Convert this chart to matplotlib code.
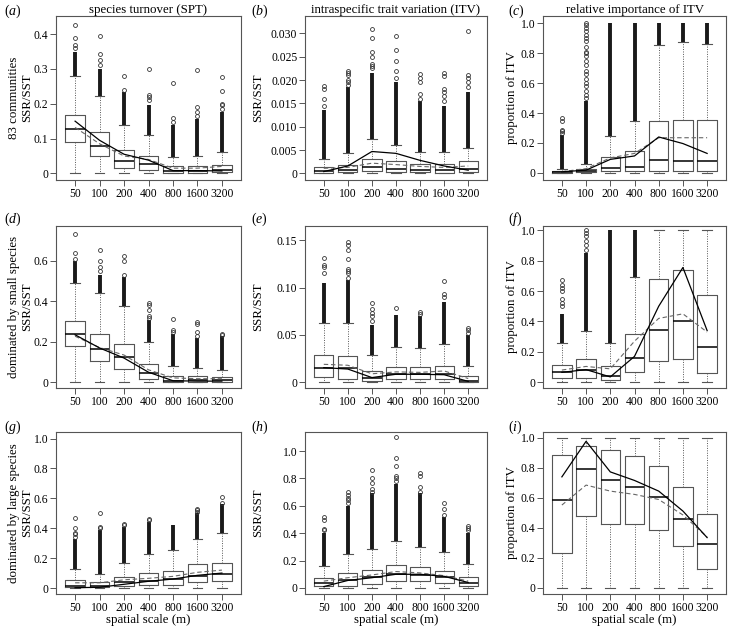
import numpy as np
import matplotlib.pyplot as plt

plt.rcParams['font.family'] = ['Liberation Serif', 'DejaVu Serif']
plt.rcParams['mathtext.fontset'] = 'custom'
plt.rcParams['mathtext.rm'] = 'Liberation Serif'
plt.rcParams['mathtext.it'] = 'Liberation Serif:italic'

scales = ['50', '100', '200', '400', '800', '1600', '3200']

# (a) species turnover, 83 communities
a_q1 = [0.090, 0.049, 0.016, 0.010, 0.002, 0.002, 0.004]
a_med = [0.127, 0.080, 0.037, 0.028, 0.006, 0.007, 0.010]
a_q3 = [0.167, 0.118, 0.066, 0.050, 0.020, 0.021, 0.025]
a_whi = [0.280, 0.222, 0.140, 0.110, 0.047, 0.050, 0.060]
a_dense = [0.350, 0.300, 0.235, 0.195, 0.140, 0.155, 0.175]
a_out = [[0.36, 0.37, 0.39, 0.427], [0.31, 0.325, 0.343, 0.395], [0.24, 0.28],
         [0.21, 0.22, 0.225, 0.30], [0.148, 0.16, 0.26], [0.165, 0.175, 0.19, 0.298],
         [0.185, 0.195, 0.20, 0.237, 0.277]]
a_solid = [0.150, 0.095, 0.055, 0.038, 0.008, 0.008, 0.007]
a_dashed = [0.132, 0.085, 0.050, 0.040, 0.015, 0.015, 0.020]

# (b) intraspecific trait variation, 83 communities
b_q1 = [0.0002, 0.0003, 0.0005, 0.0004, 0.0003, 0.0002, 0.0003]
b_med = [0.0006, 0.0008, 0.0013, 0.0009, 0.0007, 0.0007, 0.0009]
b_q3 = [0.0014, 0.0018, 0.0031, 0.0027, 0.0021, 0.0020, 0.0026]
b_whi = [0.0031, 0.0043, 0.0073, 0.0061, 0.0046, 0.0045, 0.0055]
b_dense = [0.0135, 0.0185, 0.0215, 0.0195, 0.0155, 0.0145, 0.0175]
b_out = [[0.0145, 0.0160, 0.0180, 0.0188], [0.019, 0.0195, 0.020, 0.021, 0.0215, 0.022],
         [0.0225, 0.023, 0.0235, 0.025, 0.026, 0.029, 0.031],
         [0.0205, 0.022, 0.024, 0.0265, 0.0295], [0.016, 0.017, 0.0195, 0.0205, 0.0213],
         [0.0155, 0.0165, 0.0175, 0.018, 0.0208, 0.0215],
         [0.0185, 0.0195, 0.0205, 0.021, 0.0305]]
b_solid = [0.0004, 0.0016, 0.0047, 0.0043, 0.0028, 0.0016, 0.0007]
b_dashed = [0.0011, 0.0013, 0.0022, 0.0019, 0.0015, 0.0013, 0.0016]

# (c) relative importance of ITV, 83 communities
c_q1 = [0.002, 0.003, 0.010, 0.010, 0.015, 0.010, 0.015]
c_med = [0.006, 0.010, 0.030, 0.040, 0.085, 0.080, 0.080]
c_q3 = [0.012, 0.025, 0.105, 0.145, 0.350, 0.355, 0.355]
c_whi = [0.025, 0.062, 0.245, 0.345, 0.855, 0.875, 0.865]
c_dense = [0.250, 0.480, 1.0, 1.0, 1.0, 1.0, 1.0]
c_out = [[0.27, 0.28, 0.29, 0.35, 0.37],
         [0.50, 0.52, 0.55, 0.58, 0.60, 0.63, 0.66, 0.68, 0.72, 0.75, 0.78, 0.80,
          0.81, 0.84, 0.88, 0.90, 0.92, 0.95, 0.97, 0.99, 1.0],
         [], [], [], [], []]
c_solid = [0.007, 0.018, 0.090, 0.113, 0.240, 0.196, 0.130]
c_dashed = [0.008, 0.028, 0.100, 0.130, 0.235, 0.235, 0.235]

# (d) dominated by small species, SPT
d_q1 = [0.180, 0.105, 0.065, 0.015, 0.002, 0.002, 0.003]
d_med = [0.240, 0.165, 0.125, 0.048, 0.008, 0.010, 0.010]
d_q3 = [0.305, 0.240, 0.190, 0.090, 0.032, 0.030, 0.027]
d_whi = [0.490, 0.440, 0.375, 0.200, 0.080, 0.070, 0.060]
d_dense = [0.600, 0.530, 0.520, 0.310, 0.240, 0.220, 0.230]
d_out = [[0.61, 0.64, 0.735], [0.55, 0.57, 0.60, 0.655], [0.53, 0.60, 0.625],
         [0.32, 0.33, 0.36, 0.38, 0.39], [0.25, 0.26, 0.315], [0.23, 0.25, 0.29, 0.30],
         [0.235, 0.24]]
d_solid = [0.235, 0.170, 0.120, 0.050, 0.008, 0.006, 0.006]
d_dashed = [0.228, 0.172, 0.135, 0.062, 0.022, 0.018, 0.018]

# (e) dominated by small species, ITV
e_q1 = [0.0060, 0.0040, 0.0018, 0.0032, 0.0030, 0.0030, 0.0007]
e_med = [0.0156, 0.0150, 0.0050, 0.0088, 0.0088, 0.0088, 0.0018]
e_q3 = [0.0290, 0.0276, 0.0124, 0.0166, 0.0160, 0.0177, 0.0070]
e_whi = [0.063, 0.063, 0.029, 0.037, 0.036, 0.040, 0.0175]
e_dense = [0.105, 0.108, 0.060, 0.071, 0.070, 0.085, 0.050]
e_out = [[0.115, 0.122, 0.124, 0.131], [0.11, 0.115, 0.118, 0.12, 0.13, 0.14, 0.145, 0.148],
         [0.065, 0.07, 0.073, 0.077, 0.084], [0.078], [0.072, 0.074],
         [0.09, 0.093, 0.107], [0.052, 0.055, 0.057]]
e_solid = [0.0155, 0.0140, 0.0050, 0.0085, 0.0085, 0.0080, 0.0010]
e_dashed = [0.0190, 0.0180, 0.0090, 0.0110, 0.0105, 0.0120, 0.0040]

# (f) dominated by small species, proportion of ITV
f_q1 = [0.026, 0.030, 0.013, 0.066, 0.141, 0.152, 0.060]
f_med = [0.064, 0.081, 0.040, 0.159, 0.346, 0.400, 0.231]
f_q3 = [0.115, 0.154, 0.104, 0.317, 0.680, 0.738, 0.577]
f_whi = [0.258, 0.339, 0.255, 0.690, 1.0, 1.0, 1.0]
f_dense = [0.450, 0.850, 1.0, 1.0, np.nan, np.nan, np.nan]
f_out = [[0.50, 0.52, 0.55, 0.60, 0.62, 0.64, 0.67], [0.87, 0.90, 0.93, 0.96, 0.98, 1.0],
         [], [], [], [], []]
f_solid = [0.065, 0.083, 0.035, 0.170, 0.500, 0.755, 0.340]
f_dashed = [0.080, 0.104, 0.088, 0.270, 0.420, 0.450, 0.330]

# (g) dominated by large species, SPT
g_q1 = [0.007, 0.004, 0.011, 0.020, 0.022, 0.038, 0.049]
g_med = [0.015, 0.015, 0.037, 0.049, 0.060, 0.082, 0.093]
g_q3 = [0.053, 0.042, 0.071, 0.100, 0.115, 0.160, 0.170]
g_whi = [0.126, 0.095, 0.165, 0.230, 0.255, 0.330, 0.365]
g_dense = [0.330, 0.390, 0.410, 0.440, 0.420, 0.500, 0.560]
g_out = [[0.34, 0.36, 0.37, 0.40, 0.47], [0.40, 0.41, 0.505], [0.42, 0.43],
         [0.455, 0.46], [], [0.51, 0.52, 0.53], [0.57, 0.61]]
g_solid = [0.002, 0.005, 0.025, 0.045, 0.060, 0.085, 0.100]
g_dashed = [0.035, 0.035, 0.055, 0.065, 0.078, 0.105, 0.120]

# (h) dominated by large species, ITV
h_q1 = [0.012, 0.017, 0.032, 0.049, 0.049, 0.036, 0.017]
h_med = [0.036, 0.058, 0.078, 0.102, 0.092, 0.083, 0.037]
h_q3 = [0.075, 0.112, 0.133, 0.165, 0.150, 0.126, 0.078]
h_whi = [0.163, 0.250, 0.285, 0.340, 0.300, 0.260, 0.178]
h_dense = [0.400, 0.600, 0.690, 0.760, 0.690, 0.520, 0.400]
h_out = [[0.42, 0.43, 0.50, 0.52], [0.62, 0.64, 0.66, 0.68, 0.70],
         [0.70, 0.72, 0.77, 0.80, 0.86], [0.78, 0.80, 0.82, 0.89, 0.95, 1.10],
         [0.70, 0.74, 0.82, 0.84], [0.53, 0.58, 0.62], [0.42, 0.44, 0.455]]
h_solid = [0.010, 0.055, 0.075, 0.100, 0.100, 0.085, 0.040]
h_dashed = [0.050, 0.075, 0.095, 0.120, 0.110, 0.090, 0.050]

# (i) dominated by large species, proportion of ITV
i_q1 = [0.232, 0.480, 0.425, 0.429, 0.389, 0.277, 0.130]
i_med = [0.590, 0.795, 0.723, 0.672, 0.606, 0.462, 0.292]
i_q3 = [0.885, 0.950, 0.923, 0.878, 0.812, 0.673, 0.491]
i_whi = [1.0, 1.0, 1.0, 1.0, 1.0, 1.0, 1.0]
i_dense = [np.nan] * 7
i_out = [[], [], [], [], [], [], []]
i_solid = [0.741, 0.978, 0.774, 0.717, 0.646, 0.513, 0.336]
i_dashed = [0.553, 0.686, 0.646, 0.624, 0.590, 0.487, 0.340]

whisker_low = [0, 0, 0, 0, 0, 0, 0]

titles = ['species turnover (SPT)', 'intraspecific trait variation (ITV)',
          'relative importance of ITV']
row_names = ['83 communities', 'dominated by small species', 'dominated by large species']

panels = [
    ('a', a_q1, a_med, a_q3, a_whi, a_dense, a_out, a_solid, a_dashed,
     (-0.019, 0.452), [0, 0.1, 0.2, 0.3, 0.4], ['0', '0.1', '0.2', '0.3', '0.4']),
    ('b', b_q1, b_med, b_q3, b_whi, b_dense, b_out, b_solid, b_dashed,
     (-0.0014, 0.0337), [0, 0.005, 0.01, 0.015, 0.02, 0.025, 0.03],
     ['0', '0.005', '0.010', '0.015', '0.020', '0.025', '0.030']),
    ('c', c_q1, c_med, c_q3, c_whi, c_dense, c_out, c_solid, c_dashed,
     (-0.048, 1.05), [0, 0.2, 0.4, 0.6, 0.8, 1.0], ['0', '0.2', '0.4', '0.6', '0.8', '1.0']),
    ('d', d_q1, d_med, d_q3, d_whi, d_dense, d_out, d_solid, d_dashed,
     (-0.028, 0.773), [0, 0.2, 0.4, 0.6], ['0', '0.2', '0.4', '0.6']),
    ('e', e_q1, e_med, e_q3, e_whi, e_dense, e_out, e_solid, e_dashed,
     (-0.006, 0.165), [0, 0.05, 0.10, 0.15], ['0', '0.05', '0.10', '0.15']),
    ('f', f_q1, f_med, f_q3, f_whi, f_dense, f_out, f_solid, f_dashed,
     (-0.038, 1.028), [0, 0.2, 0.4, 0.6, 0.8, 1.0], ['0', '0.2', '0.4', '0.6', '0.8', '1.0']),
    ('g', g_q1, g_med, g_q3, g_whi, g_dense, g_out, g_solid, g_dashed,
     (-0.04, 1.044), [0, 0.2, 0.4, 0.6, 0.8, 1.0], ['0', '0.2', '0.4', '0.6', '0.8', '1.0']),
    ('h', h_q1, h_med, h_q3, h_whi, h_dense, h_out, h_solid, h_dashed,
     (-0.044, 1.139), [0, 0.2, 0.4, 0.6, 0.8, 1.0], ['0', '0.2', '0.4', '0.6', '0.8', '1.0']),
    ('i', i_q1, i_med, i_q3, i_whi, i_dense, i_out, i_solid, i_dashed,
     (-0.04, 1.04), [0, 0.2, 0.4, 0.6, 0.8, 1.0], ['0', '0.2', '0.4', '0.6', '0.8', '1.0']),
]

W, H = 730, 627
fig = plt.figure(figsize=(W / 100, H / 100), dpi=100)

col_left = [56, 305, 543]
col_width = [185, 182, 183]
row_top = [16, 226, 432]
row_bottom = [180, 388, 594]
ylab_x = [-0.125, -0.225, -0.137]
grey = '#555555'

pos = np.arange(1, 8)
for k, (tag, q1, med, q3, whi, dense, out, solid, dashed, ylim, yt, ytl) in enumerate(panels):
    r, c = divmod(k, 3)
    ax = fig.add_axes([col_left[c] / W, 1 - row_bottom[r] / H,
                       col_width[c] / W, (row_bottom[r] - row_top[r]) / H])
    stats = []
    for j in range(7):
        stats.append(dict(q1=q1[j], med=med[j], q3=q3[j], whislo=whisker_low[j],
                          whishi=whi[j], fliers=[]))
    ax.bxp(stats, positions=pos, widths=0.8, capwidths=0.4, showfliers=False,
           boxprops=dict(color=grey, linewidth=0.8),
           whiskerprops=dict(color=grey, linewidth=0.7, linestyle=(0, (1, 1.5))),
           capprops=dict(color=grey, linewidth=0.8),
           medianprops=dict(color='black', linewidth=1.1))
    # dense clouds of outliers, drawn as a solid band
    for j in range(7):
        if not np.isnan(dense[j]):
            ax.vlines(pos[j], whi[j], dense[j], color='#1a1a1a', linewidth=2.8, zorder=3)
        if out[j]:
            ax.plot([pos[j]] * len(out[j]), out[j], linestyle='none', marker='o',
                    markersize=2.8, markerfacecolor='none', markeredgecolor='#333333',
                    markeredgewidth=0.6, zorder=3)
    ax.plot(pos, dashed, color='#666666', linewidth=0.8, linestyle=(0, (4, 2.5)), zorder=4)
    ax.plot(pos, solid, color='black', linewidth=0.9, zorder=5)

    ax.set_xlim(0.22, 7.78)
    ax.set_ylim(*ylim)
    ax.set_xticks(pos)
    ax.set_xticklabels(scales, fontsize=8.4)
    ax.set_yticks(yt)
    ax.set_yticklabels(ytl, fontsize=8.4)
    ax.tick_params(length=4, width=0.7, color=grey, pad=1.5)
    for sp in ax.spines.values():
        sp.set_color(grey)
        sp.set_linewidth(0.8)

    if c == 0:
        ax.set_ylabel(row_names[r] + '\nSSR/SST', fontsize=9.3, linespacing=1.15)
    elif c == 1:
        ax.set_ylabel('SSR/SST', fontsize=9.3)
    else:
        ax.set_ylabel('proportion of ITV', fontsize=9.3)
    ax.yaxis.set_label_coords(ylab_x[c], 0.5)
    if r == 0:
        ax.set_title(titles[c], fontsize=9.3, pad=2)
    if r == 2:
        ax.set_xlabel('spatial scale (m)', fontsize=9.3, labelpad=0)

    lx = [4, 251, 508][c]
    ly = [3, 211, 419][r]
    fig.text(lx / W, 1 - ly / H, '($\\it{' + tag + '}$)', fontsize=10, va='top', ha='left')

fig.savefig('out.png', dpi=100)
